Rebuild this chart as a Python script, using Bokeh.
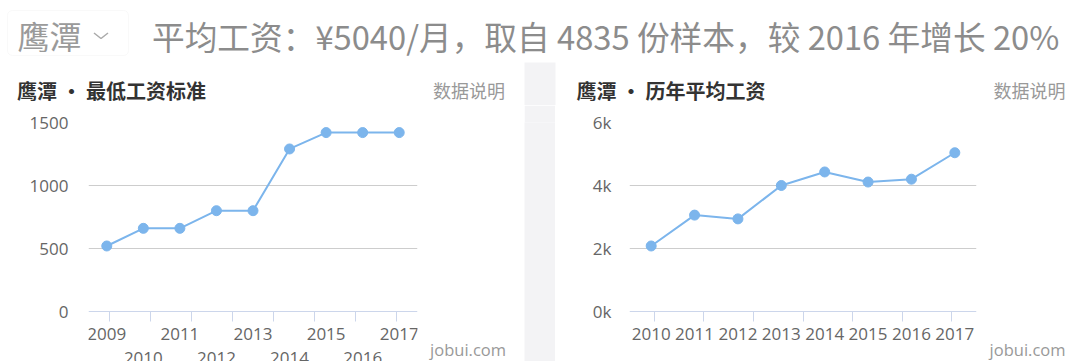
from bokeh.plotting import figure
from bokeh.layouts import column, row
from bokeh.models import (Range1d, FactorRange, FixedTicker, CategoricalAxis, Label,
                          ColumnDataSource, BoxAnnotation, CustomJSTickFormatter)
from bokeh.embed import file_html
from bokeh.resources import INLINE

# ---------------- data ----------------
city = "鹰潭"
header_text = "平均工资：¥5040/月，取自 4835 份样本，较 2016 年增长 20%"

min_wage_title = "鹰潭 · 最低工资标准"
min_wage_years = ["2009", "2010", "2011", "2012", "2013", "2014", "2015", "2016", "2017"]
min_wage_values = [520, 660, 660, 800, 800, 1290, 1420, 1420, 1420]
min_wage_yticks = [0, 500, 1000, 1500]

avg_wage_title = "鹰潭 · 历年平均工资"
avg_wage_years = ["2010", "2011", "2012", "2013", "2014", "2015", "2016", "2017"]
avg_wage_values = [2080, 3060, 2940, 4000, 4430, 4110, 4200, 5040]
avg_wage_yticks = [0, 2000, 4000, 6000]

note_text = "数据说明"
source_text = "jobui.com"

# ---------------- style / layout ----------------
CJK = "Noto Sans CJK SC"
NUM = "Open Sans"
LINE = "#7cb5ec"
GRID = "#cdcdcd"
AXIS = "#ccd6eb"
LABEL = "#666666"
MUTED = "#999999"
STRIP = "#f3f3f5"
HEAD_H = 105          # header strip height (titles included)
ROW_H = 256           # chart row height
TOP = 17              # space above the plotting area
PLOT_H = 189          # height of the value area (0 .. max)
BELOW = ROW_H - TOP - PLOT_H   # room under the zero line for the category axis
ROW1_STANDOFF = 16
ROW2_STANDOFF = 40


def label_axis(standoff, code):
    ax = CategoricalAxis(fixed_location=0, axis_line_color=None,
                         major_tick_line_color=None, major_tick_in=0, major_tick_out=0,
                         minor_tick_line_color=None,
                         major_label_standoff=standoff,
                         major_label_text_font=NUM, major_label_text_font_size="17px",
                         major_label_text_color=LABEL)
    if code:
        ax.formatter = CustomJSTickFormatter(code=code)
    return ax


def make_chart(years, values, yticks, width, border_left, y_standoff, stagger, k_format):
    ymax = yticks[-1]
    p = figure(width=width, height=ROW_H,
               x_range=FactorRange(*years, range_padding=0),
               y_range=Range1d(-ymax * BELOW / PLOT_H, ymax),
               x_axis_location=None,
               output_backend="svg", toolbar_location=None,
               min_border_left=border_left, min_border_right=8,
               min_border_top=TOP, min_border_bottom=0)
    p.outline_line_color = None
    p.background_fill_color = "white"
    p.border_fill_color = "white"
    p.xgrid.visible = False

    # y axis & grid
    p.ygrid.ticker = FixedTicker(ticks=yticks[1:])
    p.ygrid.grid_line_color = GRID
    ya = p.yaxis[0]
    ya.ticker = FixedTicker(ticks=yticks)
    ya.axis_line_color = None
    ya.major_tick_line_color = None
    ya.major_tick_in = 0
    ya.major_tick_out = 0
    ya.minor_tick_line_color = None
    ya.major_label_standoff = y_standoff
    ya.major_label_text_font = NUM
    ya.major_label_text_font_size = "17px"
    ya.major_label_text_color = LABEL
    if k_format:
        ya.formatter = CustomJSTickFormatter(code="return (tick / 1000).toFixed(0) + 'k'")

    # axis line with ticks on category edges (one factor per edge, trimmed half a factor each side)
    edges = ["edge%d" % i for i in range(len(years) + 1)]
    p.extra_x_ranges = {"edges": FactorRange(*edges, range_padding=-1,
                                             range_padding_units="absolute")}
    ta = CategoricalAxis(x_range_name="edges", fixed_location=0,
                         axis_line_color=AXIS, major_tick_line_color=AXIS,
                         major_tick_in=0, major_tick_out=10,
                         major_label_standoff=0,
                         formatter=CustomJSTickFormatter(code="return ''"))
    p.add_layout(ta, "below")

    # year labels (staggered on two rows when narrow)
    if stagger:
        p.add_layout(label_axis(ROW1_STANDOFF, "return index % 2 == 0 ? tick : ''"), "below")
        p.add_layout(label_axis(ROW2_STANDOFF, "return index % 2 == 1 ? tick : ''"), "below")
    else:
        p.add_layout(label_axis(ROW1_STANDOFF, None), "below")

    src = ColumnDataSource(dict(year=years, value=values))
    p.line("year", "value", source=src, line_color=LINE, line_width=2)
    p.scatter("year", "value", source=src, size=10, fill_color=LINE, line_color=LINE)
    return p


def side_panel(width, text_right):
    f = figure(width=width, height=ROW_H, x_range=Range1d(0, width), y_range=Range1d(0, ROW_H),
               output_backend="svg", toolbar_location=None, min_border=0,
               x_axis_location=None, y_axis_location=None)
    f.grid.visible = False
    f.outline_line_color = None
    f.background_fill_color = "white"
    f.border_fill_color = "white"
    f.add_layout(Label(x=text_right, y=13, text=source_text, text_font=NUM,
                       text_font_size="16.5px", text_color=MUTED, text_align="right",
                       text_baseline="middle"))
    return f


left = make_chart(min_wage_years, min_wage_values, min_wage_yticks,
                  width=425, border_left=88, y_standoff=20, stagger=True, k_format=False)
left_side = side_panel(99, 80.5)
right = make_chart(avg_wage_years, avg_wage_values, avg_wage_yticks,
                   width=429, border_left=74, y_standoff=18, stagger=False, k_format=True)
right_side = side_panel(96, 81)

# ---------------- header (page pixels, y measured up from the header's bottom) ----------------
h = figure(width=1080, height=HEAD_H, x_range=Range1d(0, 1080), y_range=Range1d(0, HEAD_H),
           output_backend="svg", toolbar_location=None, min_border=0,
           x_axis_location=None, y_axis_location=None)
h.grid.visible = False
h.outline_line_color = None
h.background_fill_color = "white"
h.border_fill_color = "white"
h.add_layout(BoxAnnotation(left=524, right=555, bottom=0, top=HEAD_H - 62, fill_color=STRIP,
                           fill_alpha=1, line_color=None, level="underlay"))
h.add_layout(BoxAnnotation(left=7, right=128, bottom=HEAD_H - 55, top=HEAD_H - 10,
                           fill_color=None, line_color="#ebebeb", line_width=1,
                           border_radius=5))
h.add_layout(Label(x=17, y=HEAD_H - 34, text=city, text_font=CJK, text_font_size="32px",
                   text_color="#9a9a9a", text_baseline="middle"))
h.line([93.5, 100.5, 107.5], [HEAD_H - 32.5, HEAD_H - 38, HEAD_H - 32.5],
       line_color="#aaaaaa", line_width=1.5)
h.add_layout(Label(x=151.5, y=HEAD_H - 35.3, text=header_text, text_font=CJK,
                   text_font_size="32.7px", text_color="#8c8c8c", text_baseline="middle"))

for tx, rx, ttl in ((16.5, 504.5, min_wage_title), (576, 1065, avg_wage_title)):
    h.add_layout(Label(x=tx, y=HEAD_H - 89.8, text=ttl, text_font=CJK, text_font_size="20px",
                       text_font_style="bold", text_color="#333333", text_baseline="middle"))
    h.add_layout(Label(x=rx, y=HEAD_H - 89, text=note_text, text_font=CJK,
                       text_font_size="18px", text_color=MUTED, text_align="right",
                       text_baseline="middle"))

# ---------------- separator strip ----------------
s = figure(width=31, height=ROW_H, output_backend="svg", toolbar_location=None,
           x_axis_location=None, y_axis_location=None, min_border=0)
s.grid.visible = False
s.outline_line_color = None
s.background_fill_color = STRIP
s.border_fill_color = STRIP

layout = column(h, row(left, left_side, s, right, right_side))
open("out.html", "w").write(file_html(layout, INLINE))
